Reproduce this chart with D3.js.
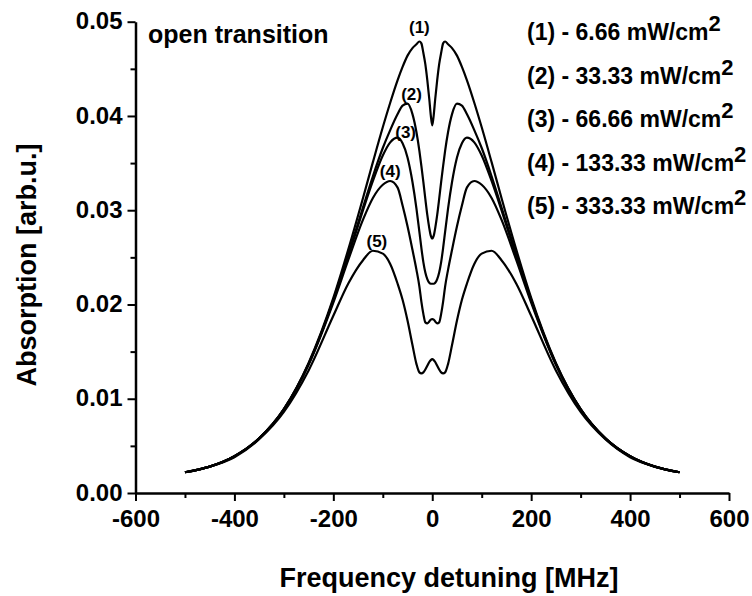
<!DOCTYPE html>
<html>
<head>
<meta charset="utf-8">
<script src="https://cdn.jsdelivr.net/npm/d3@7"></script>
<style>
  body { margin: 0; background: #fff; }
  svg text { font-family: "Liberation Sans", Arial, sans-serif; font-weight: bold; fill: #000; }
</style>
</head>
<body>
<svg id="chart" width="752" height="596"></svg>
<script>
// detuning grid [MHz]
var detuning = [-500,-450,-400,-350,-300,-250,-200,-170,-140,-120,-100,-85,-70,-60,-50,-40,-32,-26,-22,-18,-14,-10,-6,-3,0,
                3,6,10,14,18,22,26,32,40,50,60,70,85,100,120,140,170,200,250,300,350,400,450,500];

// absorption [arb.u.] for each pump intensity
var curve1 = [0.0022,0.0028,0.0039,0.0058,0.0089,0.0138,0.0207,0.0258,0.0313,0.0351,0.0388,0.0414,0.0438,0.0452,0.0464,0.0472,0.0476,0.0479,0.0477,0.0467,0.0455,0.0438,0.0418,0.0401,0.0390,
              0.0401,0.0418,0.0438,0.0455,0.0467,0.0477,0.0479,0.0476,0.0472,0.0464,0.0452,0.0438,0.0414,0.0388,0.0351,0.0313,0.0258,0.0207,0.0138,0.0089,0.0058,0.0039,0.0028,0.0022];
var curve2 = [0.0022,0.0028,0.0039,0.0058,0.0089,0.0137,0.0205,0.0253,0.0303,0.0336,0.0366,0.0385,0.0402,0.0411,0.0413,0.0402,0.0383,0.0363,0.0347,0.0330,0.0312,0.0295,0.0281,0.0273,0.0270,
              0.0273,0.0281,0.0295,0.0312,0.0330,0.0347,0.0363,0.0383,0.0402,0.0413,0.0411,0.0402,0.0385,0.0366,0.0336,0.0303,0.0253,0.0205,0.0137,0.0089,0.0058,0.0039,0.0028,0.0022];
var curve3 = [0.0022,0.0028,0.0039,0.0058,0.0089,0.0137,0.0204,0.0251,0.0300,0.0331,0.0358,0.0372,0.0377,0.0371,0.0356,0.0330,0.0302,0.0277,0.0260,0.0245,0.0234,0.0227,0.0223,0.0222,0.0222,
              0.0222,0.0223,0.0227,0.0234,0.0245,0.0260,0.0277,0.0302,0.0330,0.0356,0.0371,0.0377,0.0372,0.0358,0.0331,0.0300,0.0251,0.0204,0.0137,0.0089,0.0058,0.0039,0.0028,0.0022];
var curve4 = [0.0022,0.0028,0.0039,0.0058,0.0088,0.0136,0.0202,0.0247,0.0290,0.0313,0.0327,0.0331,0.0324,0.0305,0.0283,0.0258,0.0237,0.0219,0.0203,0.0190,0.0181,0.0180,0.0182,0.0184,0.01845,
              0.0184,0.0182,0.0180,0.0181,0.0190,0.0203,0.0219,0.0237,0.0258,0.0283,0.0305,0.0324,0.0331,0.0327,0.0313,0.0290,0.0247,0.0202,0.0136,0.0088,0.0058,0.0039,0.0028,0.0022];
var curve5 = [0.0022,0.0028,0.0038,0.0057,0.0086,0.0130,0.0188,0.0222,0.0247,0.0257,0.0254,0.0243,0.0222,0.0205,0.0183,0.0157,0.0137,0.0128,0.0127,0.0128,0.0131,0.0135,0.0139,0.0141,0.0142,
              0.0141,0.0139,0.0135,0.0131,0.0128,0.0127,0.0128,0.0137,0.0157,0.0183,0.0205,0.0222,0.0243,0.0254,0.0257,0.0247,0.0222,0.0188,0.0130,0.0086,0.0057,0.0038,0.0028,0.0022];

var curveNames = ["(1)", "(2)", "(3)", "(4)", "(5)"];
var intensities = ["6.66", "33.33", "66.66", "133.33", "333.33"];

var xTicks = [-600, -400, -200, 0, 200, 400, 600];
var xMinorTicks = [-500, -300, -100, 100, 300, 500];
var yTicks = [0, 0.01, 0.02, 0.03, 0.04, 0.05];
var yMinorTicks = [0.005, 0.015, 0.025, 0.035, 0.045];

var svg = d3.select("#chart");

var x = d3.scaleLinear().domain([-600, 600]).range([135.5, 729]);
var y = d3.scaleLinear().domain([0, 0.05]).range([493, 21.7]);

// axes
var gx = svg.append("g").attr("transform", "translate(0,493)")
    .call(d3.axisBottom(x).tickValues(xTicks).tickFormat(function(d) { return String(d); })
        .tickSize(8).tickPadding(9).tickSizeOuter(0));
var gxm = svg.append("g").attr("transform", "translate(0,493)")
    .call(d3.axisBottom(x).tickValues(xMinorTicks).tickFormat("").tickSize(5).tickSizeOuter(0));
var gy = svg.append("g").attr("transform", "translate(135.5,0)")
    .call(d3.axisLeft(y).tickValues(yTicks).tickFormat(d3.format(".2f"))
        .tickSize(8).tickPadding(5).tickSizeOuter(0));
var gym = svg.append("g").attr("transform", "translate(135.5,0)")
    .call(d3.axisLeft(y).tickValues(yMinorTicks).tickFormat("").tickSize(5).tickSizeOuter(0));

gxm.select(".domain").remove();
gym.select(".domain").remove();
svg.selectAll(".domain").attr("stroke", "#000").attr("stroke-width", 2.5);
svg.selectAll(".tick line").attr("stroke", "#000").attr("stroke-width", 2);
svg.selectAll(".tick text")
    .attr("font-family", "Liberation Sans, Arial, sans-serif")
    .attr("font-weight", "bold")
    .attr("font-size", 24)
    .attr("fill", "#000");
gy.selectAll(".tick text").attr("dy", "0.3em");

// axis titles
svg.append("text")
    .attr("x", 449).attr("y", 587)
    .attr("text-anchor", "middle")
    .attr("font-size", 27)
    .text("Frequency detuning [MHz]");

svg.append("text")
    .attr("transform", "translate(36,265) rotate(-90)")
    .attr("text-anchor", "middle")
    .attr("font-size", 27)
    .text("Absorption [arb.u.]");

// curves
var series = [curve1, curve2, curve3, curve4, curve5];
var line = d3.line()
    .x(function(d, i) { return x(detuning[i]); })
    .y(function(d) { return y(d); })
    .curve(d3.curveMonotoneX);

svg.selectAll("path.curve").data(series).enter().append("path")
    .attr("class", "curve")
    .attr("d", line)
    .attr("fill", "none")
    .attr("stroke", "#000")
    .attr("stroke-width", 2.2);

// curve labels placed above the left peak of each curve
var labelOffsets = [[0, -14], [4, -10], [8, -6], [0, -10], [4, -10]];
series.forEach(function(s, k) {
    var best = 0;
    for (var i = 0; i < detuning.length; i++) {
        if (detuning[i] < 0 && s[i] > s[best]) best = i;
    }
    svg.append("text")
        .attr("x", x(detuning[best]) + labelOffsets[k][0])
        .attr("y", y(s[best]) + labelOffsets[k][1])
        .attr("dy", "0.35em")
        .attr("text-anchor", "middle")
        .attr("font-size", 17)
        .text(curveNames[k]);
});

// legend text
svg.append("text")
    .attr("x", 148).attr("y", 43)
    .attr("font-size", 25)
    .text("open transition");

intensities.forEach(function(v, k) {
    var t = svg.append("text")
        .attr("x", 527).attr("y", 40 + k * 43.5)
        .attr("font-size", 23);
    t.append("tspan").text(curveNames[k] + " - " + v + " mW/cm");
    t.append("tspan").attr("dy", -9).attr("font-size", 22).text("2");
});
</script>
</body>
</html>
